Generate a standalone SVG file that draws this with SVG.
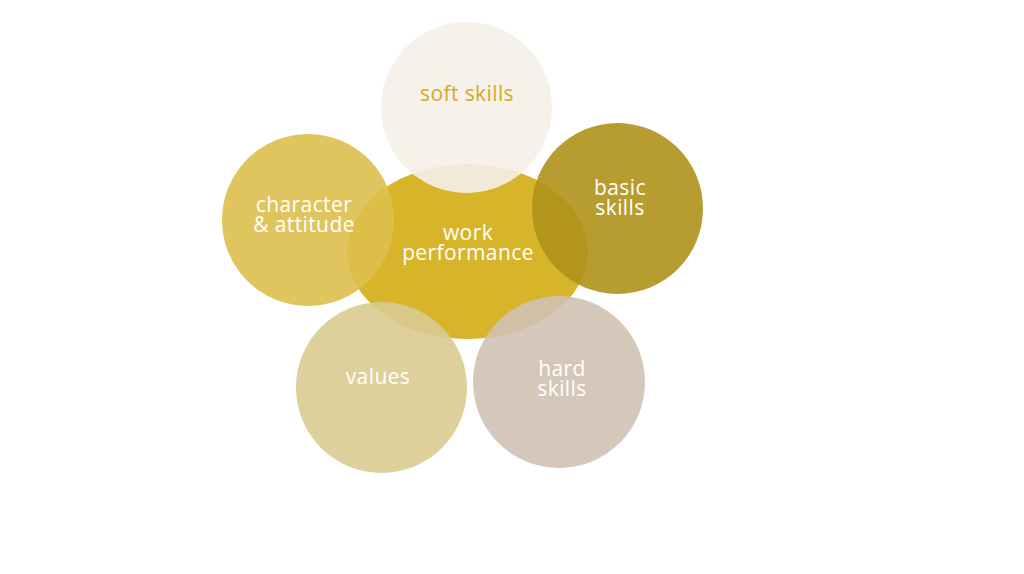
<svg xmlns="http://www.w3.org/2000/svg" width="1024" height="574" viewBox="0 0 1024 574">
<style>
.sat{opacity:0.9}
text{font-family:"Open Sans","Noto Sans","Liberation Sans",sans-serif;font-size:21px;letter-spacing:0.4px;text-anchor:middle;fill:#ffffff}
.gold{fill:#D4AA26}
</style>
<rect width="1024" height="574" fill="#ffffff"/>
<g id="connectors"></g>
<g id="work-performance">
<ellipse cx="467.5" cy="251.5" rx="120.5" ry="87.5" fill="#D8B42A"/>
<text x="468" y="240">work</text>
<text x="468" y="260">performance</text>
</g>
<g id="soft-skills">
<circle class="sat" cx="466.5" cy="107.5" r="85.5" fill="#F5EFE9"/>
<text class="gold" x="467" y="101">soft skills</text>
</g>
<g id="character-attitude">
<circle class="sat" cx="308" cy="220" r="86" fill="#DDBF4C"/>
<text x="304" y="212">character</text>
<text x="304" y="232">&amp; attitude</text>
</g>
<g id="basic-skills">
<circle class="sat" cx="617.5" cy="208.5" r="85.5" fill="#AF9119"/>
<text x="620" y="195">basic</text>
<text x="620" y="215">skills</text>
</g>
<g id="values">
<circle class="sat" cx="381.5" cy="387.5" r="85.5" fill="#D9CB90"/>
<text x="378" y="384">values</text>
</g>
<g id="hard-skills">
<circle class="sat" cx="559" cy="382" r="86" fill="#D0C1B2"/>
<text x="562" y="376">hard</text>
<text x="562" y="396">skills</text>
</g>
</svg>
